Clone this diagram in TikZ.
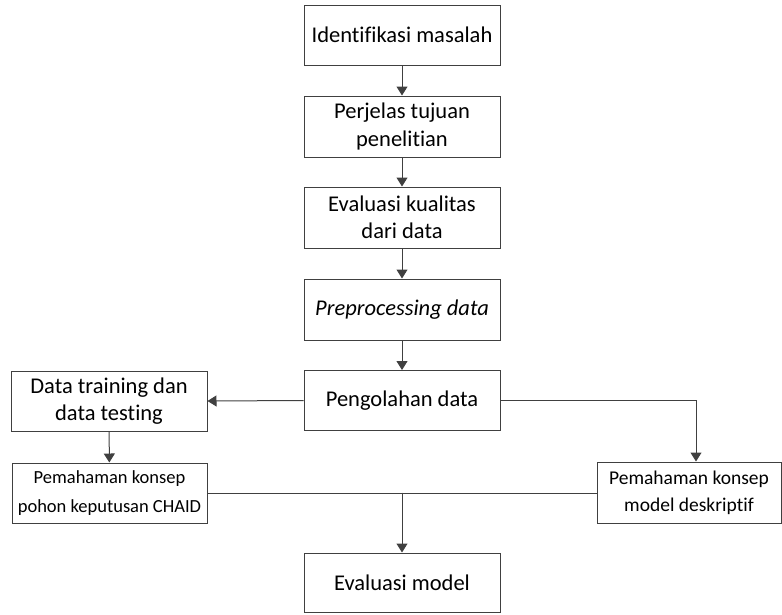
\documentclass[tikz,border=0pt]{standalone}
\usepackage{fontspec}
\setmainfont[Ligatures={NoCommon,NoContextual}]{Carlito}
\usetikzlibrary{arrows.meta}
\tikzset{box/.style={draw=black!75, line width=1pt, minimum width=196pt, minimum height=60pt, align=center, inner sep=2pt, font=\fontsize{22.5}{27.5}\selectfont},
  smallbox/.style={box, font=\fontsize{18.5}{29}\selectfont},
  arr/.style={-{Triangle[length=9pt,width=11pt]}, draw=black!75, line width=1pt},
  ln/.style={draw=black!75, line width=1pt}}

\begin{document}
\begin{tikzpicture}[x=1pt,y=-1pt]
  \useasboundingbox (0,0) rectangle (782,614);
  % main column
  \node[box] (ident) at (402,35) {Identifikasi masalah};
  \node[box, minimum height=61pt] (tujuan) at (402,126.5) {Perjelas tujuan\\penelitian};
  \node[box, minimum height=61pt] (kualitas) at (402,217.5) {Evaluasi kualitas\\dari data};
  \node[box, minimum height=61pt] (prep) at (402,309.5) {\textit{Preprocessing data}};
  \node[box] (olah) at (402,400.5) {Pengolahan data};
  % side branches
  \node[box] (train) at (109,401) {Data training dan\\data testing};
  \node[smallbox, minimum width=195pt] (chaid) at (109.5,493) {Pemahaman konsep\\pohon keputusan CHAID};
  \node[box, minimum width=184pt, minimum height=61pt, font=\fontsize{19.5}{27}\selectfont] (desk) at (689,492.5) {Pemahaman konsep\\model deskriptif};
  \node[box, minimum height=59pt] (evmodel) at (402,582.5) {Evaluasi model};
  \coordinate (belok) at (696,400.5);
  \coordinate (gabung) at (402,492.5);

  \draw[arr] (ident) -- (tujuan);
  \draw[arr] (tujuan) -- (kualitas);
  \draw[arr] (kualitas) -- (prep);
  \draw[arr] (prep) -- (olah);
  \draw[arr] (olah.west) -- (train.east);
  \draw[arr] (olah.east) -- (belok) -- (belok |- desk.north);
  \draw[arr] (train) -- (chaid);
  \draw[ln] (chaid.east) -- (chaid.east -| desk.west);
  \draw[arr] (gabung) -- (evmodel);
\end{tikzpicture}
\end{document}
